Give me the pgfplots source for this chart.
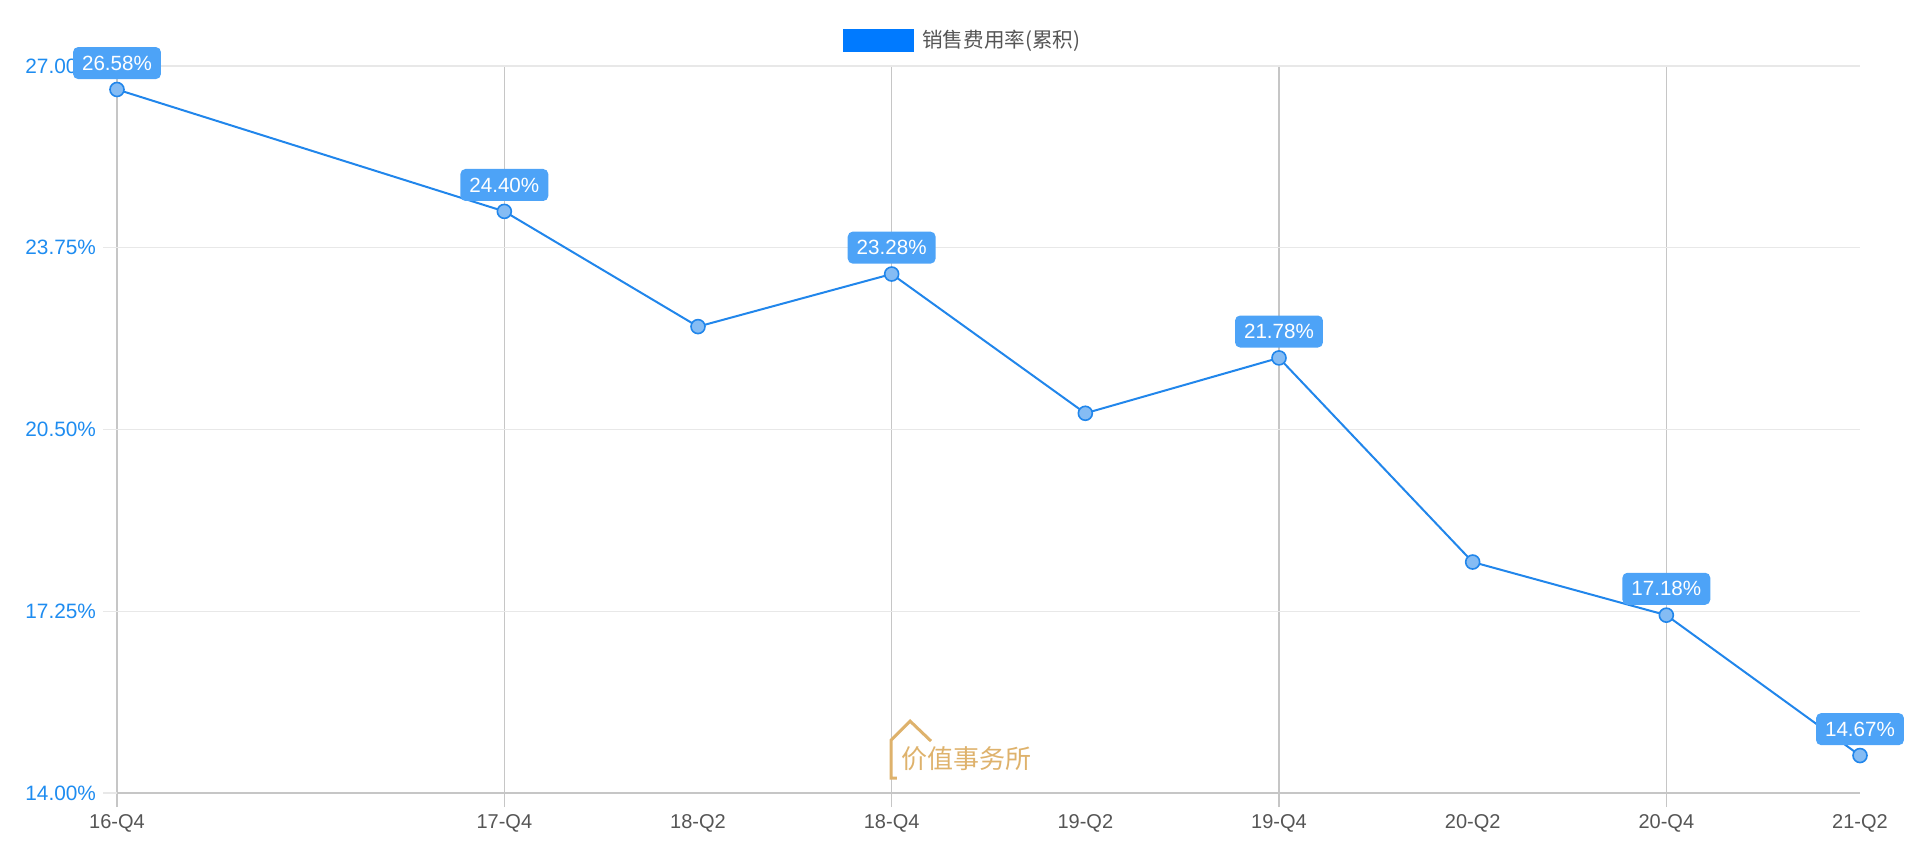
\documentclass[border=0pt]{standalone}
\usepackage{pgfplots}
\pgfplotsset{compat=1.18}
\usepackage{fontspec}
\setmainfont{Liberation Sans}
\newfontfamily\cjk{Noto Sans CJK SC}
\definecolor{lineblue}{RGB}{33,134,235}
\definecolor{labelblue}{RGB}{77,163,247}
\definecolor{legendblue}{RGB}{0,122,255}
\definecolor{ytickblue}{RGB}{30,140,240}
\definecolor{texgray}{RGB}{85,85,85}
\definecolor{gold}{RGB}{222,178,108}

\begin{document}
\begin{tikzpicture}
\begin{axis}[
    set layers,
    at={(0,0)}, anchor=south west,
    scale only axis,
    width=871.5pt, height=363.5pt,
    xmin=0, xmax=9,
    ymin=14, ymax=27,
    clip=false,
    axis line style={draw=none},
    tick align=outside,
    xtick pos=bottom, ytick pos=left,
    major tick length=7pt,
    font=\fontsize{10}{12}\selectfont,
    /pgf/number format/assume math mode=true,
    xtick={0,2,4,6,8},
    xticklabels={16-Q4,17-Q4,18-Q4,19-Q4,20-Q4},
    extra x ticks={3,5,7,9},
    extra x tick labels={18-Q2,19-Q2,20-Q2,21-Q2},
    extra x tick style={grid=none, tick style={draw=none}},
    xticklabel style={text=texgray},
    ytick={14,17.25,20.5,23.75,27},
    yticklabel={\pgfmathprintnumber[fixed,fixed zerofill,precision=2]{\tick}\%},
    yticklabel style={text=ytickblue, font=\fontsize{10.4}{12}\selectfont},
    xmajorgrids, ymajorgrids,
    every axis x grid/.style={gray!45, line width=0.6pt},
    every axis y grid/.style={gray!18, line width=0.6pt},
    x tick style={gray!45, line width=0.6pt},
    y tick style={gray!18, line width=0.6pt},
    legend style={at={(0.4165,1.0357)}, anchor=west, draw=none, fill=none,
        inner sep=0pt, font=\cjk\fontsize{10.3}{12}\selectfont, text=texgray},
    legend image code/.code={\fill[legendblue] (0pt,-5.25pt) rectangle (34.5pt,5.25pt);},
]
% darker base line
\draw[gray!45, line width=0.6pt] (rel axis cs:0,0) -- (rel axis cs:1,0);

% watermark
\draw[gold, line width=1.5pt] (axis cs:4.027,14.268) -- (axis cs:3.997,14.268)
    -- (axis cs:3.997,14.946) -- (axis cs:4.095,15.286) -- (axis cs:4.203,14.929);
\node[text=gold, font=\cjk\fontsize{13}{13}\selectfont] at (axis cs:4.384,14.607) {价值事务所};

\addplot[lineblue, line width=1pt, mark=*, mark size=3.5pt,
    mark options={fill=lineblue!55, draw=lineblue, line width=0.8pt}]
    coordinates {
    (0,26.58) (2,24.40) (3,22.34) (4,23.28) (5,20.79)
    (6,21.78) (7,18.13) (8,17.18) (9,14.67)
};
\addlegendentry{\hspace{2pt}销售费用率(累积)}

% value boxes
\addplot[forget plot, draw=none, mark=none,
    nodes near coords={\pgfmathprintnumber[fixed,fixed zerofill,precision=2]{\pgfplotspointmeta}\%},
    point meta=explicit,
    every node near coord/.append style={fill=labelblue, text=white,
        rounded corners=2.5pt, inner xsep=4.5pt, inner ysep=4.4pt,
        text height=7.2pt, text depth=0pt,
        font=\fontsize{10.3}{12}\selectfont, anchor=south, yshift=5pt}]
    coordinates {
    (0,26.58) [26.58] (2,24.40) [24.40] (4,23.28) [23.28]
    (6,21.78) [21.78] (8,17.18) [17.18] (9,14.67) [14.67]
};
\end{axis}
\pgfresetboundingbox
\path[use as bounding box] (-58.5pt,-24pt) rectangle (901.5pt,396.5pt);
\end{tikzpicture}
\end{document}
